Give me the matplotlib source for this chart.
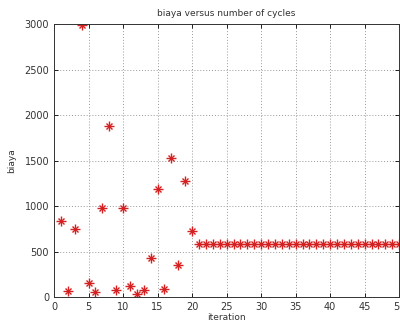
import matplotlib
matplotlib.use("Agg")
import matplotlib.pyplot as plt

iterations = list(range(1, 51))
biaya = [840, 66, 750, 2995, 154, 55, 981, 1882, 74, 975,
         125, 37, 74, 434, 1184, 92, 1525, 357, 1272, 721] + [580] * 30

x_ticks = [0, 5, 10, 15, 20, 25, 30, 35, 40, 45, 50]
y_ticks = [0, 500, 1000, 1500, 2000, 2500, 3000]

fig = plt.figure(figsize=(4.0, 3.26), dpi=100)
ax = fig.add_axes([0.135, 0.089, 0.863, 0.837])
ax.plot(iterations, biaya, linestyle='none', marker='+', markersize=7,
        color='#d42020', markeredgewidth=1.0)
ax.plot(iterations, biaya, linestyle='none', marker='x', markersize=4,
        color='#d42020', markeredgewidth=1.0)
ax.set_xlim(0, 50)
ax.set_ylim(0, 3000)
ax.set_xticks(x_ticks)
ax.set_yticks(y_ticks)
ax.grid(True, linestyle=(0, (1, 2)), color='#999999', linewidth=0.7)
ax.tick_params(direction='in', labelsize=7, labelcolor='#333333', length=3,
               top=True, right=True, width=0.6)
for s in ax.spines.values():
    s.set_linewidth(0.7)
    s.set_color('#333333')
ax.set_title('biaya versus number of cycles', fontsize=6.5, color='#333333', pad=6)
ax.set_xlabel('iteration', fontsize=6.5, color='#333333', labelpad=1)
ax.set_ylabel('biaya', fontsize=6.5, color='#333333', labelpad=6)
fig.savefig('out.png', dpi=100)
